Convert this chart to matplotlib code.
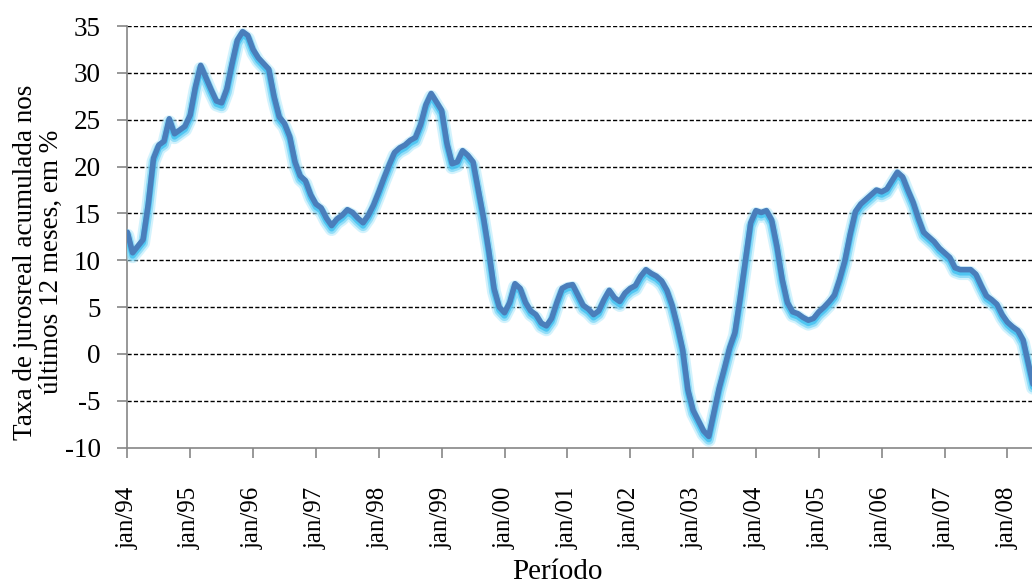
import matplotlib
matplotlib.use("Agg")
import matplotlib.pyplot as plt
import matplotlib.patheffects as pe

plt.rcParams['font.family'] = ['Liberation Serif', 'DejaVu Serif']

# monthly values, jan/94 .. jun/08 (month index 0 = jan/94)
values = [
    13.0, 10.8, 11.5, 12.2, 16.0, 20.9, 22.3, 22.7, 25.1, 23.5, 23.9, 24.3,   # 1994
    25.5, 28.5, 30.8, 29.5, 28.2, 27.0, 26.8, 28.3, 31.0, 33.5, 34.4, 34.0,   # 1995
    32.5, 31.6, 31.0, 30.4, 27.5, 25.3, 24.6, 23.2, 20.5, 19.0, 18.5, 17.0,   # 1996
    16.0, 15.6, 14.5, 13.7, 14.4, 14.8, 15.4, 15.1, 14.5, 14.0, 14.8, 15.9,   # 1997
    17.3, 18.8, 20.2, 21.5, 22.0, 22.3, 22.8, 23.1, 24.5, 26.6, 27.8, 26.9,   # 1998
    26.0, 22.5, 20.3, 20.5, 21.7, 21.2, 20.5, 17.5, 14.5, 11.0, 7.0, 5.0,     # 1999
    4.4, 5.5, 7.5, 7.0, 5.5, 4.6, 4.2, 3.3, 3.0, 3.8, 5.5, 7.0,               # 2000
    7.3, 7.4, 6.3, 5.2, 4.8, 4.2, 4.6, 5.8, 6.8, 6.0, 5.6, 6.5,               # 2001
    7.0, 7.3, 8.3, 9.0, 8.6, 8.3, 7.8, 6.8, 5.2, 3.0, 0.5, -3.8,              # 2002
    -6.0, -7.1, -8.2, -8.8, -6.2, -3.6, -1.5, 0.7, 2.3, 6.0, 10.0, 14.0,      # 2003
    15.3, 15.1, 15.3, 14.3, 11.5, 8.0, 5.5, 4.5, 4.3, 3.9, 3.6, 3.8,          # 2004
    4.5, 5.0, 5.6, 6.3, 8.0, 10.0, 12.8, 15.2, 16.0, 16.5, 17.0, 17.5,        # 2005
    17.3, 17.6, 18.5, 19.4, 18.9, 17.5, 16.2, 14.5, 13.0, 12.5, 12.0, 11.3,   # 2006
    10.8, 10.3, 9.2, 9.0, 9.0, 9.0, 8.5, 7.3, 6.2, 5.8, 5.3, 4.2,             # 2007
    3.4, 2.9, 2.5, 1.5, -1.0, -3.5,                                           # 2008
]
months = list(range(len(values)))

tick_labels = ['jan/94', 'jan/95', 'jan/96', 'jan/97', 'jan/98', 'jan/99', 'jan/00',
               'jan/01', 'jan/02', 'jan/03', 'jan/04', 'jan/05', 'jan/06', 'jan/07', 'jan/08']
tick_pos = [12 * i for i in range(len(tick_labels))]
y_ticks = [-10, -5, 0, 5, 10, 15, 20, 25, 30, 35]

fig = plt.figure(figsize=(10.32, 5.87), dpi=100)
ax = fig.add_axes([0.1234, 0.2373, 1.0 - 0.1234, 0.9557 - 0.2373])

for yv in y_ticks[1:]:
    ax.axhline(yv, color='black', lw=1.0, linestyle=(0, (3, 1.6)), zorder=1)

ax.plot(months, values, color='#4a7ebb', lw=4.0, solid_joinstyle='round',
        solid_capstyle='round', zorder=3,
        path_effects=[
            pe.SimpleLineShadow(offset=(0, -2.5), shadow_color='#a8e6fb', alpha=0.5, rho=1, linewidth=10),
            pe.SimpleLineShadow(offset=(0, -2.5), shadow_color='#72d4f6', alpha=0.65, rho=1, linewidth=7),
            pe.SimpleLineShadow(offset=(0, -2), shadow_color='#45c2f2', alpha=0.85, rho=1, linewidth=4.5),
            pe.Normal()])

ax.set_xlim(0, 172.7)
ax.set_ylim(-10, 35)
ax.set_yticks(y_ticks)
ax.set_yticklabels([str(v) for v in y_ticks], fontsize=19.5)
ax.set_xticks(tick_pos)
ax.set_xticklabels(tick_labels, rotation=90, fontsize=18)

for s in ['top', 'right']:
    ax.spines[s].set_visible(False)
for s in ['left', 'bottom']:
    ax.spines[s].set_color('#868686')
    ax.spines[s].set_linewidth(1.2)
ax.tick_params(axis='both', direction='out', length=7, width=1.2, color='#868686')
ax.tick_params(axis='y', pad=12)
ax.tick_params(axis='x', pad=21)

ax.set_xlabel('Período', fontsize=21)
ax.xaxis.set_label_coords(0.475, -0.265)
ax.set_ylabel('Taxa de jurosreal acumulada nos\núltimos 12 meses, em %', fontsize=19.5,
              linespacing=1.05)
ax.yaxis.set_label_coords(-0.0705, 0.44)

fig.savefig('out.png', dpi=100)
